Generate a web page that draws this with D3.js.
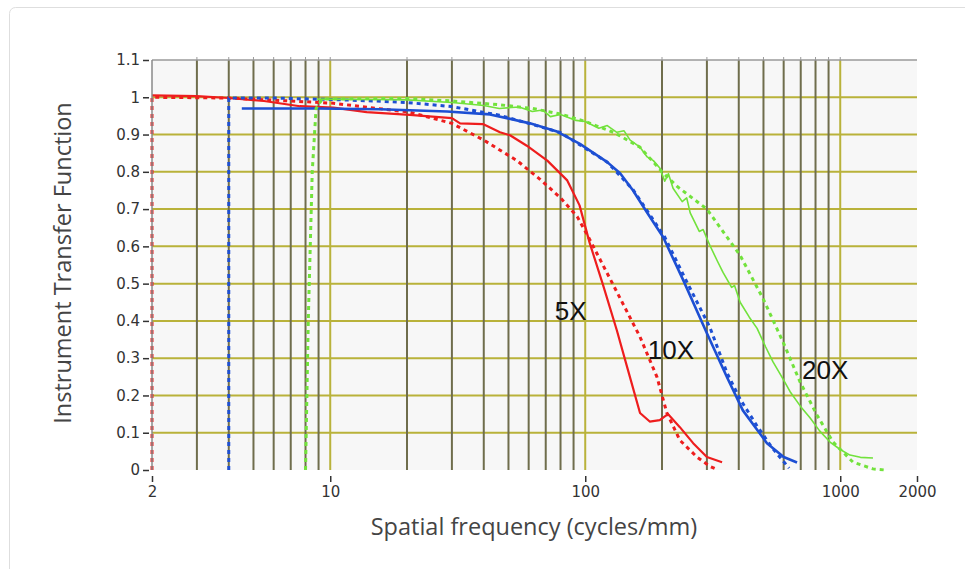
<!DOCTYPE html>
<html>
<head>
<meta charset="utf-8">
<script src="https://cdn.jsdelivr.net/npm/d3@7"></script>
<style>
  html, body { margin: 0; padding: 0; background: #fff; }
  svg { display: block; }
</style>
</head>
<body>
<svg id="canvas"></svg>
<script>
// ---- data (frequency in cycles/mm, transfer value) ----
const yTicks = [0, 0.1, 0.2, 0.3, 0.4, 0.5, 0.6, 0.7, 0.8, 0.9, 1, 1.1];
const xTickLabels = [2, 10, 100, 1000, 2000];

const red5xSolid = [[2,1.005],[3,1.003],[4,0.998],[5.5,0.99],[7.6,0.976],[10.3,0.972],[13.9,0.96],
  [20.5,0.953],[30,0.944],[32.3,0.93],[39.7,0.928],[46.3,0.906],[50.7,0.898],[59,0.87],[71,0.83],
  [85,0.777],[95,0.71],[104,0.61],[117,0.50],[133,0.375],[146,0.276],[164,0.153],[179,0.13],
  [196,0.134],[211,0.15],[235,0.115],[265,0.072],[300,0.035],[344,0.021]];
const red5xDash = [[2,0],[2,1.0],[4,0.998],[7,0.99],[10.3,0.984],[14,0.973],[20.5,0.96],[30,0.93],
  [40,0.885],[54,0.83],[66.5,0.78],[80,0.73],[93,0.68],[102,0.63],[128,0.50],[164,0.357],
  [191,0.25],[209,0.153],[235,0.08],[274,0.035],[308,0.01],[332,0.0]];

const blue10xSolid = [[4.5,0.97],[8.9,0.97],[15.7,0.968],[28.7,0.962],[42.3,0.954],[60.7,0.93],
  [77.5,0.908],[95.3,0.875],[122,0.826],[137,0.796],[154,0.75],[175,0.69],[202,0.625],[242,0.51],
  [300,0.367],[359,0.25],[415,0.16],[516,0.072],[600,0.035],[677,0.02]];
const blue10xDash = [[4,0],[4,0.998],[6,0.998],[10,0.994],[15,0.99],[20,0.986],[30,0.975],
  [46,0.952],[66,0.922],[80,0.905],[95,0.873],[122,0.826],[154,0.752],[205,0.625],[248,0.51],
  [308,0.383],[360,0.26],[405,0.19],[470,0.12],[540,0.06],[630,0.005]];

const green20xSolid = [[8.9,0.995],[15,0.994],[20,0.993],[30,0.986],[40,0.978],[46,0.97],[55,0.974],
  [62,0.962],[68,0.966],[73,0.948],[80,0.954],[92,0.938],[100,0.935],[113,0.917],[122,0.924],
  [133,0.906],[142,0.91],[150,0.885],[164,0.866],[175,0.84],[185,0.83],[196,0.81],[205,0.775],
  [212,0.795],[221,0.756],[240,0.72],[250,0.73],[258,0.69],[280,0.64],[290,0.645],[308,0.603],
  [330,0.56],[347,0.53],[375,0.49],[385,0.495],[405,0.45],[440,0.41],[472,0.38],[510,0.33],
  [545,0.29],[590,0.25],[636,0.21],[700,0.17],[761,0.14],[830,0.105],[912,0.075],[1000,0.055],
  [1092,0.04],[1200,0.034],[1344,0.032]];
const green20xDash = [[8.0,0],[8.2,0.4],[8.5,0.8],[8.8,0.97],[9.3,0.995],[20,0.997],[30,0.99],
  [46,0.98],[62,0.97],[80,0.955],[100,0.935],[130,0.905],[164,0.866],[200,0.8],[230,0.76],
  [300,0.70],[405,0.576],[498,0.46],[597,0.343],[696,0.236],[811,0.147],[937,0.075],
  [1122,0.021],[1344,0.003],[1499,0.0]];

const seriesList = [
  { name: "5X", color: "#ee1d1d", solid: red5xSolid, dash: red5xDash, width: 2.2 },
  { name: "10X", color: "#1d4fd3", solid: blue10xSolid, dash: blue10xDash, width: 2.6 },
  { name: "20X", color: "#72e23c", solid: green20xSolid, dash: green20xDash, width: 1.6 }
];

// label positions (frequency, value at baseline)
const labelNames = ["5X", "10X", "20X"];
const labelFreq = [76, 176, 708];
const labelVal = [0.402, 0.298, 0.244];

// ---- layout ----
const width = 965;
const height = 569;
const svg = d3.select("#canvas").attr("width", width).attr("height", height);

const marginLeft = 152;
const marginRight = 48;   // plot ends at 917
const marginTop = 60;
const marginBottom = 99;  // plot ends at 470

const xScale = d3.scaleLog()
  .domain([2, 2000])
  .range([marginLeft, width - marginRight]);
const yScale = d3.scaleLinear()
  .domain([0, 1.1])
  .range([height - marginBottom, marginTop]);

// card frame around the chart
svg.append("rect")
  .attr("x", 9.5).attr("y", 7.5)
  .attr("width", 1000).attr("height", 600)
  .attr("rx", 6)
  .attr("fill", "#fff")
  .attr("stroke", "#dedede");

// plot background
svg.append("rect")
  .attr("x", marginLeft).attr("y", marginTop)
  .attr("width", xScale.range()[1] - marginLeft)
  .attr("height", yScale(0) - marginTop)
  .attr("fill", "#f7f7f7");

// horizontal grid
svg.append("g")
  .selectAll("line")
  .data(yTicks.filter(d => d > 0 && d < 1.1))
  .join("line")
  .attr("x1", marginLeft)
  .attr("x2", xScale.range()[1])
  .attr("y1", d => yScale(d))
  .attr("y2", d => yScale(d))
  .attr("stroke", "#b9b23a")
  .attr("stroke-width", 2);

// vertical grid (minor dark, decades yellow)
const gridFreqs = xScale.ticks().filter(d => d > 2 && d < 2000);
const isDecade = d => Math.abs(Math.log10(d) - Math.round(Math.log10(d))) < 1e-9;
svg.append("g")
  .selectAll("line")
  .data(gridFreqs)
  .join("line")
  .attr("x1", d => xScale(d))
  .attr("x2", d => xScale(d))
  .attr("y1", marginTop)
  .attr("y2", yScale(0))
  .attr("stroke", d => isDecade(d) ? "#b9b23a" : "#6f6d4c")
  .attr("stroke-width", 2);

// top border with small ticks
svg.append("line")
  .attr("x1", marginLeft).attr("x2", xScale.range()[1])
  .attr("y1", marginTop).attr("y2", marginTop)
  .attr("stroke", "#9a9a9a").attr("stroke-width", 1.5);
svg.append("g")
  .selectAll("line")
  .data(gridFreqs)
  .join("line")
  .attr("x1", d => xScale(d)).attr("x2", d => xScale(d))
  .attr("y1", marginTop - 3).attr("y2", marginTop)
  .attr("stroke", "#9a9a9a");

// curves
const line = d3.line()
  .x(d => xScale(d[0]))
  .y(d => yScale(d[1]));

seriesList.forEach(s => {
  svg.append("path")
    .attr("d", line(s.dash))
    .attr("fill", "none")
    .attr("stroke", s.color)
    .attr("stroke-width", 3)
    .attr("stroke-dasharray", "4 4");
  svg.append("path")
    .attr("d", line(s.solid))
    .attr("fill", "none")
    .attr("stroke", s.color)
    .attr("stroke-width", s.width)
    .attr("stroke-linejoin", "round");
});

// left axis line
svg.append("line")
  .attr("x1", marginLeft).attr("x2", marginLeft)
  .attr("y1", marginTop).attr("y2", yScale(0))
  .attr("stroke", "#8a8a8a").attr("stroke-width", 1.5);

// y axis
const yAxis = d3.axisLeft(yScale)
  .tickValues(yTicks)
  .tickSize(6)
  .tickPadding(3)
  .tickFormat(d3.format("~g"));
const yG = svg.append("g")
  .attr("transform", `translate(${marginLeft - 3},0)`)
  .call(yAxis);
yG.select(".domain").remove();
yG.selectAll(".tick line").attr("stroke", "#333").attr("stroke-width", 1.5);
yG.selectAll("text")
  .attr("font-family", "DejaVu Sans, sans-serif")
  .attr("font-size", 15)
  .attr("fill", "#333");

// x axis
const xAxis = d3.axisBottom(xScale)
  .tickValues(xTickLabels)
  .tickSize(6)
  .tickPadding(4)
  .tickFormat(d3.format("d"));
const xG = svg.append("g")
  .attr("transform", `translate(0,${yScale(0) + 6})`)
  .call(xAxis);
xG.select(".domain").remove();
xG.selectAll(".tick line").attr("stroke", "#333").attr("stroke-width", 1.5);
xG.selectAll("text")
  .attr("font-family", "DejaVu Sans, sans-serif")
  .attr("font-size", 15)
  .attr("fill", "#333");

// axis titles
svg.append("text")
  .attr("x", 534)
  .attr("y", 535)
  .attr("text-anchor", "middle")
  .attr("font-family", "Open Sans, sans-serif")
  .attr("font-size", 23.5)
  .attr("fill", "#444")
  .text("Spatial frequency (cycles/mm)");

svg.append("text")
  .attr("transform", `translate(71,${(marginTop + yScale(0)) / 2 - 2}) rotate(-90)`)
  .attr("text-anchor", "middle")
  .attr("font-family", "Open Sans, sans-serif")
  .attr("font-size", 23.5)
  .attr("fill", "#444")
  .text("Instrument Transfer Function");

// curve labels
svg.append("g")
  .selectAll("text")
  .data(labelNames)
  .join("text")
  .attr("x", (d, i) => xScale(labelFreq[i]))
  .attr("y", (d, i) => yScale(labelVal[i]))
  .attr("font-family", "Liberation Sans, Arial, sans-serif")
  .attr("font-size", 26)
  .attr("fill", "#111")
  .text(d => d);
</script>
</body>
</html>
